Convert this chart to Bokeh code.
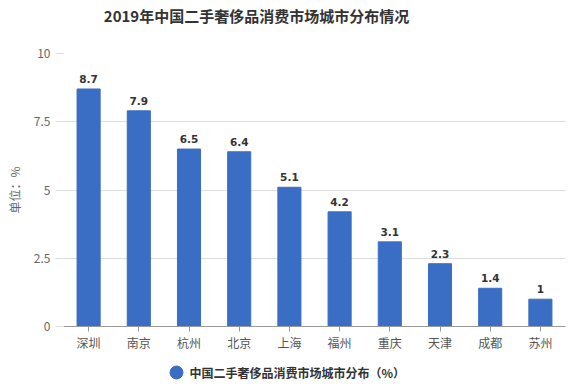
from bokeh.plotting import figure
from bokeh.layouts import column
from bokeh.models import ColumnDataSource, LabelSet, FixedTicker, Range1d
from bokeh.core.properties import value
from bokeh.embed import file_html
from bokeh.resources import INLINE

cities = ["深圳", "南京", "杭州", "北京", "上海", "福州", "重庆", "天津", "成都", "苏州"]
values = [8.7, 7.9, 6.5, 6.4, 5.1, 4.2, 3.1, 2.3, 1.4, 1]
labels = ["8.7", "7.9", "6.5", "6.4", "5.1", "4.2", "3.1", "2.3", "1.4", "1"]
y_ticks = [0, 2.5, 5, 7.5, 10]
y_tick_labels = ["0", "2.5", "5", "7.5", "10"]
series_name = "中国二手奢侈品消费市场城市分布（%）"
title_text = "2019年中国二手奢侈品消费市场城市分布情况"

FONT = "Noto Sans CJK SC"
BAR = "#3a6ec4"

W = 573


def strip(height, y0, y1):
    f = figure(x_range=Range1d(63, 565), y_range=Range1d(y1, y0), width=W, height=height,
               output_backend="svg", toolbar_location=None,
               min_border_left=63, min_border_right=8, min_border_top=0, min_border_bottom=0,
               outline_line_color=None)
    f.axis.visible = False
    f.grid.visible = False
    return f


# title strip (frame aligns with the main plot's frame)
tf = strip(30, 0, 30)
tf.text(x=[256], y=[15], text=[title_text], text_font=value(FONT),
        text_font_size="15px", text_font_style="bold", text_color="#333333",
        text_baseline="middle", text_align="center")

src = ColumnDataSource(dict(x=cities, top=values, label=labels))

p = figure(x_range=cities, y_range=Range1d(0, 10), width=W, height=325,
           output_backend="svg", toolbar_location=None,
           min_border_left=63, min_border_right=8, min_border_top=23, min_border_bottom=29)

p.vbar(x="x", top="top", width=0.46, source=src, color=BAR)

p.add_layout(LabelSet(x="x", y="top", text="label", source=src, y_offset=6,
                      text_align="center", text_baseline="bottom",
                      text_font=value("DejaVu Sans"), text_font_size="10.5px",
                      text_font_style="bold", text_color="#333333"))

p.outline_line_color = None
p.xgrid.grid_line_color = None
p.ygrid.grid_line_color = "#dddddd"
p.ygrid.ticker = FixedTicker(ticks=y_ticks)

p.yaxis.ticker = FixedTicker(ticks=y_ticks)
p.yaxis.major_label_overrides = {t: l for t, l in zip(y_ticks, y_tick_labels)}
p.yaxis.axis_line_color = None
p.yaxis.major_tick_line_color = "#dddddd"
p.yaxis.major_tick_out = 8
p.yaxis.major_tick_in = 0
p.yaxis.minor_tick_line_color = None
p.yaxis.major_label_text_font = FONT
p.yaxis.major_label_text_font_size = "12px"
p.yaxis.major_label_text_color = "#666666"
p.yaxis.major_label_standoff = 5
p.yaxis.axis_label = "单位：%"
p.yaxis.axis_label_text_font = FONT
p.yaxis.axis_label_text_font_size = "12px"
p.yaxis.axis_label_text_font_style = "normal"
p.yaxis.axis_label_text_color = "#666666"
p.yaxis.axis_label_standoff = 8

p.xaxis.axis_line_color = "#999999"
p.xaxis.major_tick_line_color = "#999999"
p.xaxis.major_tick_out = 5
p.xaxis.major_tick_in = 0
p.xaxis.major_label_text_font = FONT
p.xaxis.major_label_text_font_size = "12px"
p.xaxis.major_label_text_color = "#555555"
p.xaxis.major_label_standoff = 2

# legend strip
lg = strip(28, 355, 383)
lg.scatter(x=[176], y=[372], marker="circle", size=13, color=BAR)
lg.text(x=[189], y=[372], text=[series_name], text_font=value(FONT),
        text_font_size="12px", text_font_style="bold", text_color="#333333",
        text_baseline="middle", text_align="left")

layout = column(tf, p, lg, spacing=0)
open("out.html", "w").write(file_html(layout, INLINE))
